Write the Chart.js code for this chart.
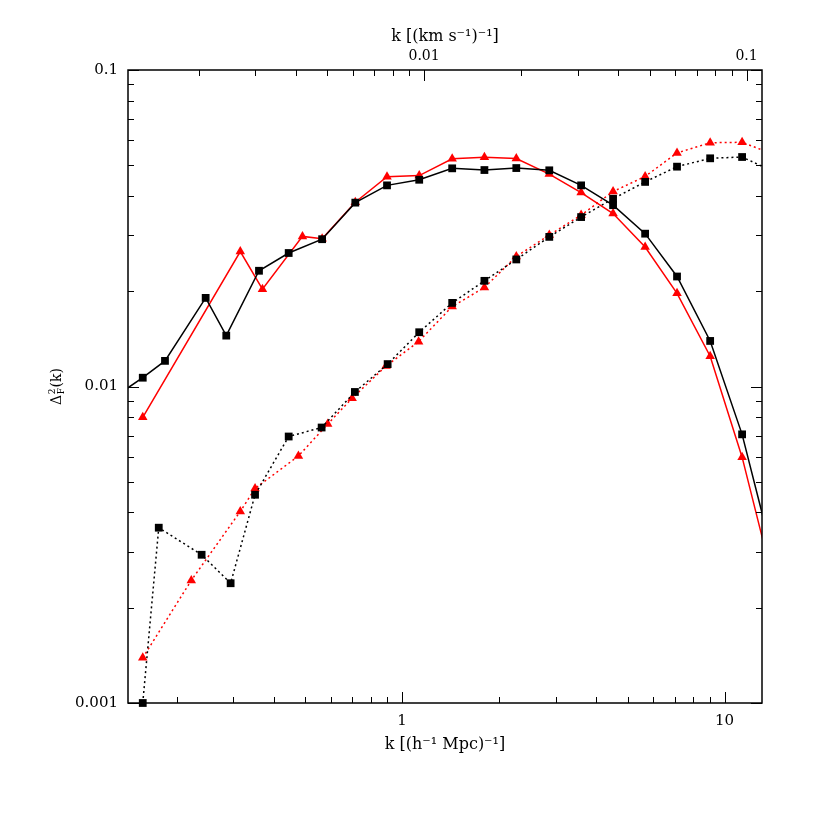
<!DOCTYPE html>
<html>
<head>
<meta charset="utf-8">
<script src="https://cdn.jsdelivr.net/npm/chart.js@4.4.0/dist/chart.umd.min.js"></script>
<style>
  html, body { margin: 0; padding: 0; background: #fff; }
  #wrap { width: 830px; height: 830px; position: relative; }
</style>
</head>
<body>
<div id="wrap"><canvas id="powerPlot"></canvas></div>
<script>
// k in (h^-1 Mpc)^-1, Delta^2_F(k)
const blackSolidK = [0.125, 0.157, 0.184, 0.246, 0.285, 0.360, 0.445, 0.565, 0.716, 0.898, 1.13, 1.43, 1.80, 2.26, 2.86, 3.59, 4.51, 5.67, 7.12, 9.02, 11.33, 14.2];
const blackSolidY = [0.0091, 0.01066, 0.01205, 0.01905, 0.01448, 0.02321, 0.02641, 0.0292, 0.0381, 0.0432, 0.0450, 0.0489, 0.0483, 0.0490, 0.0482, 0.0432, 0.0374, 0.0304, 0.02226, 0.01393, 0.00706, 0.00285];

const redSolidK = [0.157, 0.315, 0.369, 0.491, 0.565, 0.716, 0.898, 1.13, 1.43, 1.80, 2.26, 2.86, 3.59, 4.51, 5.67, 7.12, 9.02, 11.33, 14.2];
const redSolidY = [0.00799, 0.0267, 0.0203, 0.0298, 0.0293, 0.0382, 0.0460, 0.0464, 0.0524, 0.0530, 0.0525, 0.0469, 0.0410, 0.0352, 0.0276, 0.0197, 0.01246, 0.00598, 0.00239];

const blackDotK = [0.157, 0.176, 0.239, 0.294, 0.350, 0.445, 0.563, 0.714, 0.902, 1.13, 1.43, 1.80, 2.26, 2.86, 3.59, 4.51, 5.67, 7.12, 9.02, 11.33, 14.2];
const blackDotY = [0.001, 0.00358, 0.00294, 0.00239, 0.00455, 0.00695, 0.00742, 0.00961, 0.01177, 0.01484, 0.01837, 0.02157, 0.0252, 0.0297, 0.0343, 0.0392, 0.0443, 0.0495, 0.0526, 0.0531, 0.0477];

const redDotK = [0.157, 0.222, 0.315, 0.350, 0.477, 0.588, 0.700, 0.892, 1.125, 1.43, 1.80, 2.26, 2.86, 3.59, 4.51, 5.67, 7.12, 9.02, 11.33, 14.2];
const redDotY = [0.00139, 0.00244, 0.00403, 0.00476, 0.00603, 0.00761, 0.00918, 0.01161, 0.01386, 0.01789, 0.02055, 0.02575, 0.0301, 0.0348, 0.0413, 0.0461, 0.0547, 0.0589, 0.0591, 0.0541];

const xTicks = [1, 10];
const xTickLabels = ['1', '10'];
const topTicks = [0.01, 0.1];
const topTickLabels = ['0.01', '0.1'];
const yTicks = [0.001, 0.01, 0.1];
const yTickLabels = ['0.001', '0.01', '0.1'];

const xMin = 0.1413, xMax = 13.06;
const yMin = 0.001, yMax = 0.1;
const kvFactor = 117; // (h^-1 Mpc)^-1 per (km s^-1)^-1

const serif = '"DejaVu Serif", "Liberation Serif", serif';
const pts = (ks, ys) => ks.map((k, i) => ({ x: k, y: ys[i] }));
const labelFrom = (vals, labels) => v => {
  const i = vals.findIndex(t => Math.abs(Math.log10(t) - Math.log10(v)) < 1e-6);
  return i >= 0 ? labels[i] : '';
};

function logMarks(lo, hi) {
  const out = [];
  for (let e = Math.floor(Math.log10(lo)) - 1; e <= Math.ceil(Math.log10(hi)); e++) {
    for (let m = 1; m < 10; m++) {
      const v = m * Math.pow(10, e);
      if (v >= lo * 0.9999 && v <= hi * 1.0001) out.push({ v, major: m === 1 });
    }
  }
  return out;
}

const frameTicks = {
  id: 'frameTicks',
  afterDraw(chart) {
    const { ctx, chartArea: a, scales } = chart;
    const minor = 6, major = 11;
    ctx.save();
    ctx.strokeStyle = '#000';
    ctx.lineWidth = 1;
    ctx.beginPath();
    logMarks(xMin, xMax).forEach(t => {
      const px = Math.round(scales.x.getPixelForValue(t.v)) + 0.5;
      const l = t.major ? major : minor;
      ctx.moveTo(px, a.bottom); ctx.lineTo(px, a.bottom - l);
    });
    logMarks(xMin / kvFactor, xMax / kvFactor).forEach(t => {
      const px = Math.round(scales.x2.getPixelForValue(t.v)) + 0.5;
      const l = t.major ? major : minor;
      ctx.moveTo(px, a.top); ctx.lineTo(px, a.top + l);
    });
    logMarks(yMin, yMax).forEach(t => {
      const py = Math.round(scales.y.getPixelForValue(t.v)) + 0.5;
      const l = t.major ? major : minor;
      ctx.moveTo(a.left, py); ctx.lineTo(a.left + l, py);
      ctx.moveTo(a.right, py); ctx.lineTo(a.right - l, py);
    });
    ctx.stroke();
    ctx.lineWidth = 1.5;
    ctx.strokeRect(a.left, a.top, a.right - a.left, a.bottom - a.top);

    // y axis title: Delta^2_F(k)
    ctx.translate(56, (a.top + a.bottom) / 2);
    ctx.rotate(-Math.PI / 2);
    ctx.fillStyle = '#000';
    ctx.textBaseline = 'alphabetic';
    const big = '14px ' + serif, small = '9px ' + serif;
    ctx.font = big;
    const wD = ctx.measureText('Δ').width;
    ctx.font = small;
    const wS = Math.max(ctx.measureText('2').width, ctx.measureText('F').width);
    ctx.font = big;
    const wK = ctx.measureText('(k)').width;
    const x0 = -(wD + wS + 1 + wK) / 2;
    const base = 5;
    ctx.fillText('Δ', x0, base);
    ctx.font = small;
    ctx.fillText('2', x0 + wD + 0.5, base - 6);
    ctx.fillText('F', x0 + wD + 0.5, base + 3);
    ctx.font = big;
    ctx.fillText('(k)', x0 + wD + wS + 1, base);
    ctx.restore();
  }
};

const lineSet = (data, color, dotted, shape, clip) => ({
  data,
  borderColor: color,
  backgroundColor: color,
  borderWidth: 1.5,
  borderDash: dotted ? [2, 3] : [],
  pointStyle: shape,
  pointRadius: 5.5,
  pointBorderWidth: 0,
  pointBackgroundColor: color,
  tension: 0,
  clip
});

new Chart(document.getElementById('powerPlot').getContext('2d'), {
  type: 'line',
  data: {
    datasets: [
      lineSet(pts(blackSolidK, blackSolidY), '#000000', false, 'rect', { left: 0, top: 0, right: 0, bottom: 0 }),
      lineSet(pts(redSolidK, redSolidY), '#ff0000', false, 'triangle', { left: 0, top: 0, right: 0, bottom: 0 }),
      lineSet(pts(blackDotK, blackDotY), '#000000', true, 'rect', { left: 0, top: 0, right: 0, bottom: 8 }),
      lineSet(pts(redDotK, redDotY), '#ff0000', true, 'triangle', { left: 0, top: 0, right: 0, bottom: 0 })
    ]
  },
  options: {
    animation: false,
    responsive: true,
    maintainAspectRatio: false,
    layout: { padding: { left: 0, top: 0, right: 68, bottom: 0 } },
    plugins: { legend: { display: false }, title: { display: false }, tooltip: { enabled: false } },
    scales: {
      x: {
        type: 'logarithmic', position: 'bottom', min: xMin, max: xMax,
        grid: { display: false, drawTicks: false }, border: { display: false },
        afterBuildTicks: s => { s.ticks = xTicks.map(v => ({ value: v })); },
        afterFit: s => { s.height = 127; },
        ticks: { callback: labelFrom(xTicks, xTickLabels), color: '#000', font: { family: serif, size: 15 }, padding: 9, maxRotation: 0, autoSkip: false },
        title: { display: true, text: 'k [(h⁻¹ Mpc)⁻¹]', color: '#000', font: { family: serif, size: 16 }, padding: { top: 0, bottom: 76 } }
      },
      x2: {
        type: 'logarithmic', position: 'top', min: xMin / kvFactor, max: xMax / kvFactor,
        grid: { display: false, drawTicks: false }, border: { display: false },
        afterBuildTicks: s => { s.ticks = topTicks.map(v => ({ value: v })); },
        afterFit: s => { s.height = 70; },
        ticks: { callback: labelFrom(topTicks, topTickLabels), color: '#000', font: { family: serif, size: 14 }, padding: 5, maxRotation: 0, autoSkip: false },
        title: { display: true, text: 'k [(km s⁻¹)⁻¹]', color: '#000', font: { family: serif, size: 16 }, padding: { top: 27, bottom: 0 } }
      },
      y: {
        type: 'logarithmic', position: 'left', min: yMin, max: yMax,
        grid: { display: false, drawTicks: false }, border: { display: false },
        afterBuildTicks: s => { s.ticks = yTicks.map(v => ({ value: v })); },
        afterFit: s => { s.width = 128; },
        ticks: { callback: labelFrom(yTicks, yTickLabels), color: '#000', font: { family: serif, size: 15 }, padding: 10, autoSkip: false }
      }
    }
  },
  plugins: [frameTicks]
});
</script>
</body>
</html>
